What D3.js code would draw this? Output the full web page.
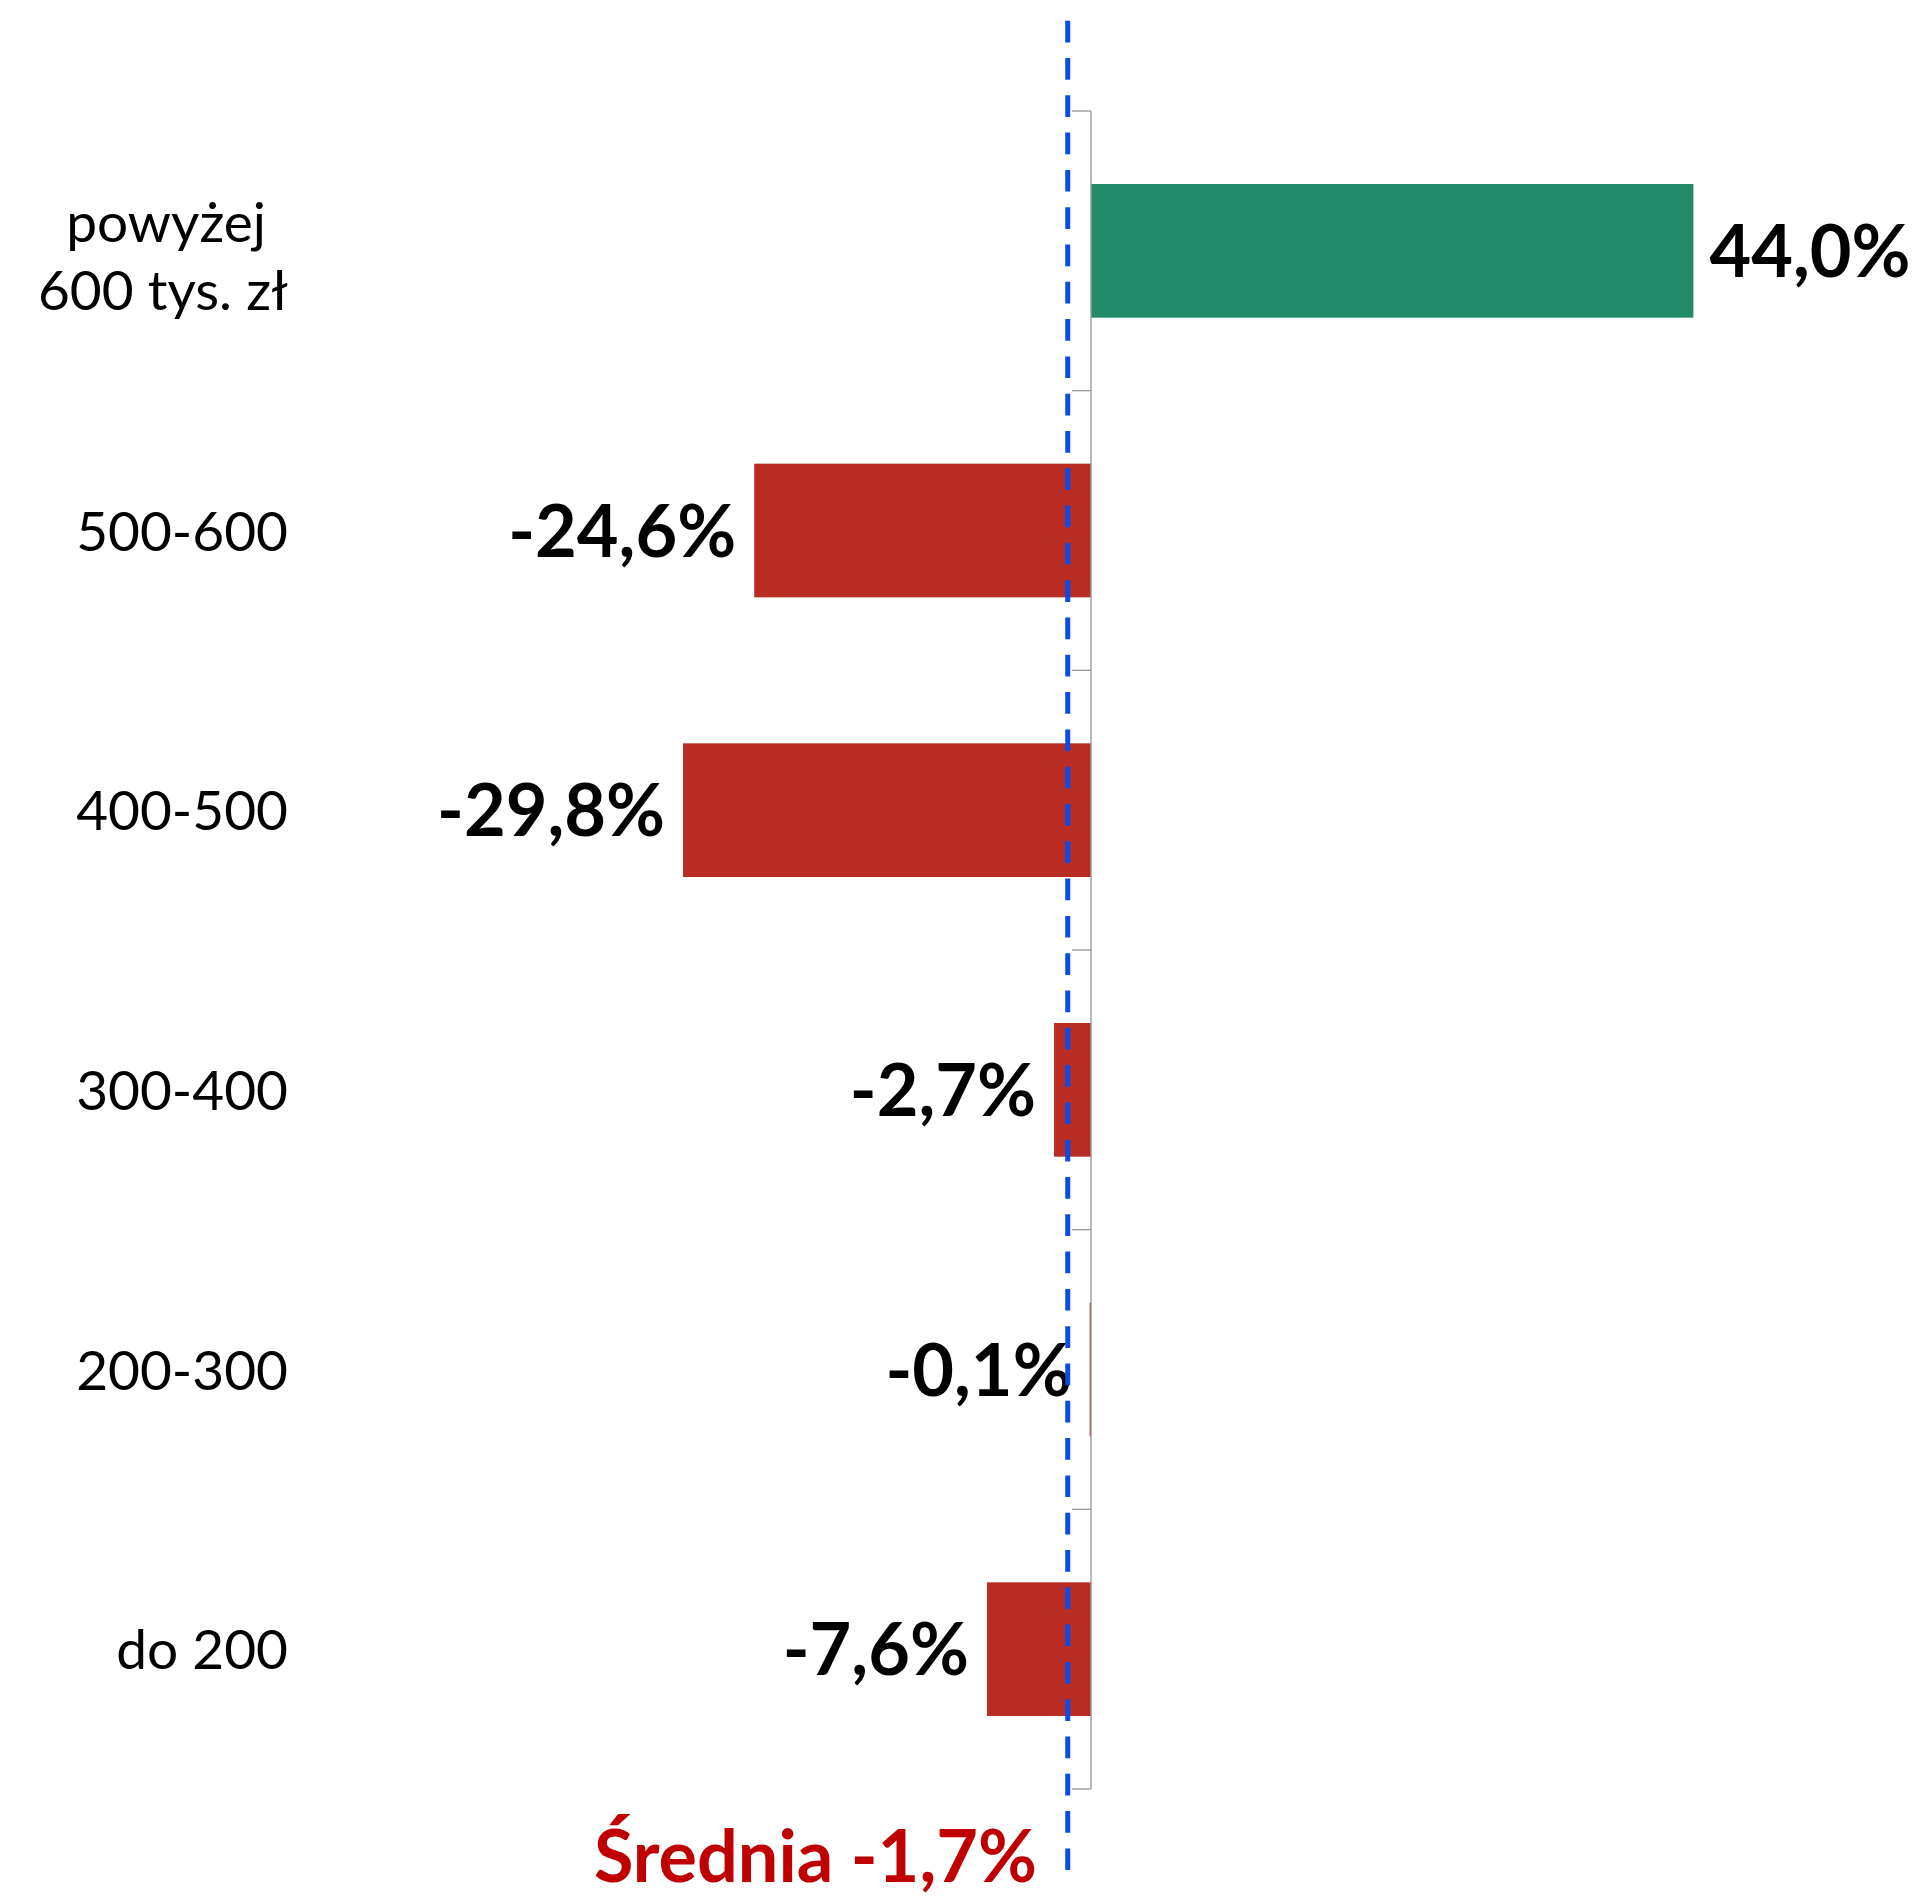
<!DOCTYPE html>
<html>
<head>
<meta charset="utf-8">
<script src="https://cdn.jsdelivr.net/npm/d3@7"></script>
<style>
  body { margin: 0; background: #fff; }
  svg text { font-family: Lato, "Open Sans", sans-serif; }
</style>
</head>
<body>
<script>
const categories = [["powyżej", "600 tys. zł"], ["500-600"], ["400-500"], ["300-400"], ["200-300"], ["do 200"]];
const values = [44.0, -24.6, -29.8, -2.7, -0.1, -7.6];
const valueLabels = ["44,0%", "-24,6%", "-29,8%", "-2,7%", "-0,1%", "-7,6%"];
const average = -1.7;
const averageLabel = "Średnia -1,7%";

const w = 1922;
const h = 1896;

const svg = d3.select("body")
  .append("svg")
  .attr("width", w)
  .attr("height", h);

const xScale = d3.scaleLinear()
  .domain([-30, 45])
  .range([680.3, 1707.1]);

const keys = categories.map((c, i) => i);
const yScale = d3.scaleBand()
  .domain(keys)
  .range([111, 1789])
  .paddingInner(0.522)
  .paddingOuter(0.261);

const step = yScale.step();
const x0 = xScale(0);

// bars
svg.selectAll("rect.bar").data(values).enter().append("rect")
  .attr("class", "bar")
  .attr("x", d => Math.min(xScale(d), x0))
  .attr("y", (d, i) => yScale(i))
  .attr("width", d => Math.abs(xScale(d) - x0))
  .attr("height", yScale.bandwidth())
  .attr("fill", d => d >= 0 ? "#238B69" : "#B82C23");

// axis line + ticks between categories
const axis = svg.append("g").attr("stroke", "#9a9a9a").attr("stroke-width", 1.4);
axis.append("line")
  .attr("x1", x0).attr("x2", x0)
  .attr("y1", yScale.range()[0]).attr("y2", yScale.range()[1]);
axis.selectAll("line.tick").data(d3.range(keys.length + 1)).enter().append("line")
  .attr("class", "tick")
  .attr("x1", x0 - 19).attr("x2", x0)
  .attr("y1", i => yScale.range()[0] + i * step)
  .attr("y2", i => yScale.range()[0] + i * step);

// category labels
const catG = svg.selectAll("text.cat").data(categories).enter().append("text")
  .attr("class", "cat")
  .attr("text-anchor", "end")
  .attr("font-size", 55)
  .attr("fill", "#000");
catG.each(function(lines, i) {
  const cy = yScale(i) + yScale.bandwidth() / 2;
  const t = d3.select(this);
  if (lines.length === 1) {
    t.append("tspan").attr("x", 288).attr("y", cy + 20).text(lines[0]);
  } else {
    t.append("tspan").attr("x", 266).attr("y", cy - 9).text(lines[0]);
    t.append("tspan").attr("x", 288).attr("y", cy + 59).text(lines[1]);
  }
});

// value labels
svg.selectAll("text.val").data(values).enter().append("text")
  .attr("class", "val")
  .attr("font-size", 72)
  .attr("font-weight", "bold")
  .attr("fill", "#000")
  .attr("text-anchor", d => d >= 0 ? "start" : "end")
  .attr("x", d => d >= 0 ? xScale(d) + 16 : xScale(d) - 18)
  .attr("y", (d, i) => yScale(i) + yScale.bandwidth() / 2 + 26)
  .text((d, i) => valueLabels[i]);

// average line
svg.append("line")
  .attr("x1", xScale(average)).attr("x2", xScale(average))
  .attr("y1", 20.7).attr("y2", 1870)
  .attr("stroke", "#0B4CE6")
  .attr("stroke-width", 5)
  .attr("stroke-dasharray", "21.7 15.6");

svg.append("text")
  .attr("x", 1037)
  .attr("y", 1882)
  .attr("text-anchor", "end")
  .attr("font-size", 72)
  .attr("font-weight", "bold")
  .attr("fill", "#C00000")
  .text(averageLabel);
</script>
</body>
</html>
